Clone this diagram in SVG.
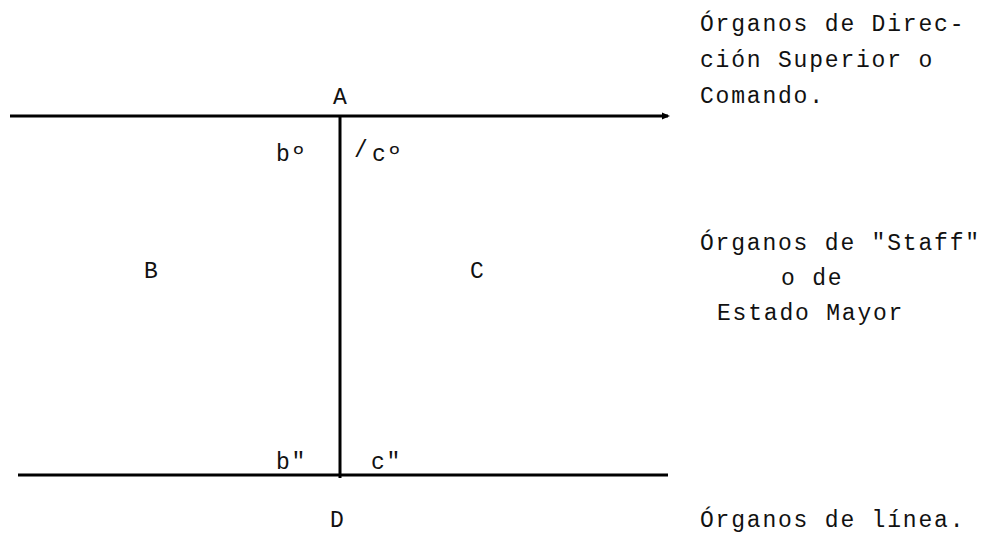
<svg xmlns="http://www.w3.org/2000/svg" width="991" height="534" viewBox="0 0 991 534">
<style>
text{font-family:"Liberation Mono","DejaVu Sans Mono",monospace;font-size:23px;fill:#111;letter-spacing:1.8px}
.l{stroke:#000;stroke-width:3;fill:none}
</style>
<defs>
<marker id="ah" markerWidth="8" markerHeight="8" refX="6" refY="4" orient="auto" markerUnits="userSpaceOnUse">
<path d="M0,0.5 L8,4 L0,7.5 Z" fill="#000"/>
</marker>
</defs>
<rect width="991" height="534" fill="#fff"/>
<g id="connectors">
<line class="l" x1="10" y1="116" x2="668" y2="116" marker-end="url(#ah)"/>
<line class="l" x1="18" y1="475" x2="668" y2="475"/>
<line class="l" x1="340" y1="116" x2="340" y2="478" stroke-width="2.5"/>
</g>
<g id="A"><text x="333" y="104">A</text></g>
<g id="b1"><text x="276" y="161">bº</text></g>
<g id="c1"><text x="354" y="157">/</text><text x="372" y="161">cº</text></g>
<g id="B"><text x="144" y="278">B</text></g>
<g id="C"><text x="470" y="278">C</text></g>
<g id="b2"><text x="276" y="469">b"</text></g>
<g id="c2"><text x="371" y="469">c"</text></g>
<g id="D"><text x="330" y="527">D</text></g>
<g id="label-top">
<text x="700" y="31">Órganos de Direc-</text>
<text x="700" y="67">ción Superior o</text>
<text x="700" y="103">Comando.</text>
</g>
<g id="label-mid">
<text x="700" y="250">Órganos de "Staff"</text>
<text x="781" y="285">o de</text>
<text x="717" y="320">Estado Mayor</text>
</g>
<g id="label-bottom">
<text x="700" y="527">Órganos de línea.</text>
</g>
</svg>
